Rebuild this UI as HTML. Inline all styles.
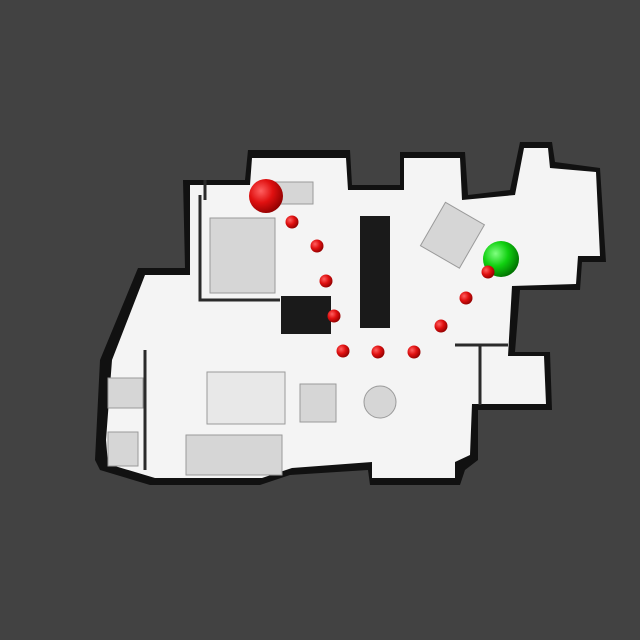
<!DOCTYPE html>
<html><head><meta charset="utf-8"><style>
html,body{margin:0;padding:0;background:#424242;}
svg{display:block}
</style></head><body>
<svg width="640" height="640" viewBox="0 0 640 640" xmlns="http://www.w3.org/2000/svg">
<defs>
<radialGradient id="rg" cx="35%" cy="35%" r="70%"><stop offset="0" stop-color="#ff6060"/><stop offset="0.5" stop-color="#e01010"/><stop offset="1" stop-color="#900000"/></radialGradient>
<radialGradient id="gg" cx="35%" cy="35%" r="70%"><stop offset="0" stop-color="#80ff80"/><stop offset="0.5" stop-color="#10d010"/><stop offset="1" stop-color="#007000"/></radialGradient>
</defs>
<rect width="640" height="640" fill="#424242"/>
<!-- shadow/walls -->
<g fill="#111">
<path d="M183 180 L245 180 L248 150 L350 150 L352 185 L400 185 L400 152 L465 152 L468 195 L510 190 L520 142 L552 142 L555 162 L600 168 L606 262 L582 262 L580 290 L520 290 L515 352 L550 352 L552 410 L478 410 L478 460 L465 470 L460 485 L370 485 L368 470 L290 475 L260 485 L150 485 L100 470 L95 460 L100 360 L138 268 L185 268 Z"/>
</g>
<!-- floor -->
<g fill="#f4f4f4">
<path d="M190 185 L250 185 L252 158 L346 158 L348 190 L404 190 L404 158 L460 158 L462 200 L515 195 L524 148 L548 148 L550 168 L596 172 L600 256 L578 256 L576 284 L512 286 L508 356 L544 356 L546 404 L472 404 L470 455 L455 462 L455 478 L372 478 L372 462 L292 468 L262 478 L155 478 L108 464 L106 440 L112 360 L145 275 L190 275 Z"/>
</g>
<!-- dark voids -->
<rect x="360" y="216" width="30" height="112" fill="#1a1a1a"/>
<rect x="281" y="296" width="50" height="38" fill="#1a1a1a"/>
<!-- interior walls -->
<g stroke="#2a2a2a" stroke-width="3" fill="none">
<path d="M200 195 L200 300 L280 300"/>
<path d="M145 350 L145 470"/>
<path d="M480 345 L480 405"/>
<path d="M455 345 L508 345"/>
<path d="M205 180 L205 200"/>
</g>
<!-- furniture grays -->
<g fill="#d6d6d6" stroke="#9a9a9a" stroke-width="1">
<rect x="210" y="218" width="65" height="75"/>
<rect x="207" y="372" width="78" height="52" fill="#e8e8e8"/>
<rect x="186" y="435" width="96" height="40"/>
<rect x="300" y="384" width="36" height="38"/>
<rect x="430" y="210" width="45" height="50" transform="rotate(30 452 235)"/>
<rect x="108" y="378" width="35" height="30"/>
<rect x="108" y="432" width="30" height="34"/>
<circle cx="380" cy="402" r="16"/>
<rect x="258" y="182" width="55" height="22"/>
</g>
<!-- markers -->
<circle cx="266" cy="196" r="17" fill="url(#rg)"/>
<circle cx="501" cy="259" r="18" fill="url(#gg)"/>
<g fill="url(#rg)">
<circle cx="292" cy="222" r="6.5"/>
<circle cx="317" cy="246" r="6.5"/>
<circle cx="326" cy="281" r="6.5"/>
<circle cx="334" cy="316" r="6.5"/>
<circle cx="343" cy="351" r="6.5"/>
<circle cx="378" cy="352" r="6.5"/>
<circle cx="414" cy="352" r="6.5"/>
<circle cx="441" cy="326" r="6.5"/>
<circle cx="466" cy="298" r="6.5"/>
<circle cx="488" cy="272" r="6.5"/>
</g>
</svg>
</body></html>
